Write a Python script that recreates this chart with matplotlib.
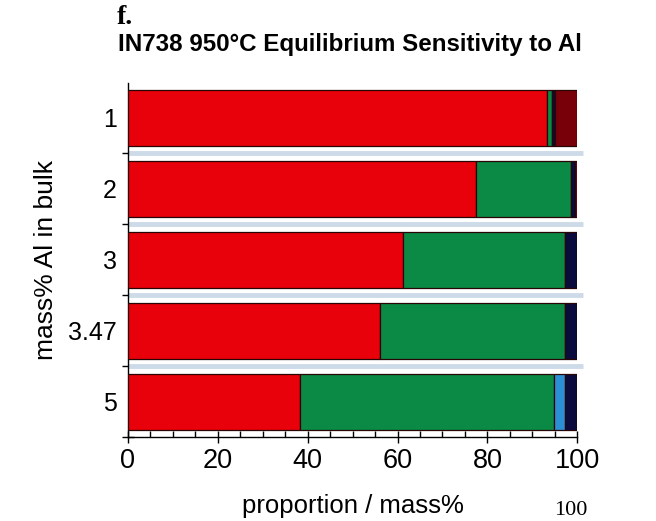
import matplotlib.pyplot as plt
from matplotlib.ticker import MultipleLocator, FixedLocator
import numpy as np

plt.rcParams['font.family'] = ['Liberation Sans', 'DejaVu Sans']

al_levels = ['1', '2', '3', '3.47', '5']

# phase proportions (mass%) per Al level
gamma = [93.3, 77.5, 61.2, 56.1, 38.3]
gamma_prime = [1.0, 21.0, 36.1, 41.2, 56.6]
light_phase = [0.0, 0.0, 0.0, 0.0, 2.4]
dark_phase = [0.8, 1.0, 2.7, 2.7, 2.7]
red_phase = [4.9, 0.5, 0.0, 0.0, 0.0]

series = [gamma, gamma_prime, light_phase, dark_phase, red_phase]
colors = ['#e8000a', '#0b8a45', '#2b8fd6', '#0a0a3c', '#780008']

fig = plt.figure(figsize=(6.56, 5.21), dpi=100)
ax = fig.add_axes([0.195, 0.161, 0.685, 0.68])

y = np.arange(len(al_levels))
left = np.zeros(len(al_levels))
for vals, c in zip(series, colors):
    vals = np.array(vals)
    ax.barh(y, vals, left=left, height=0.79, color=c,
            edgecolor='#2a0505', linewidth=0.9, zorder=3)
    left += vals

# light separator bands between rows
for b in y[:-1] + 0.5:
    ax.plot([0, 101.3], [b, b], color='#cddbe8', lw=3.5,
            solid_capstyle='butt', clip_on=False, zorder=2)

ax.set_xlim(0, 100)
ax.set_ylim(4.5, -0.49)

ax.set_yticks(y)
ax.set_yticklabels(al_levels)
ax.yaxis.set_minor_locator(FixedLocator(np.arange(-0.5, 5, 1.0)))
ax.tick_params(axis='y', which='major', length=0, labelsize=18, pad=8)
ax.tick_params(axis='y', which='minor', length=8, direction='inout', width=1)

ax.xaxis.set_major_locator(MultipleLocator(20))
ax.xaxis.set_minor_locator(MultipleLocator(5))
ax.tick_params(axis='x', which='major', length=9, direction='inout',
               width=1, labelsize=19.5, pad=3)
ax.tick_params(axis='x', which='minor', length=4, direction='in', width=1)

for s in ['top', 'right']:
    ax.spines[s].set_visible(False)
ax.spines['left'].set_linewidth(1)
ax.spines['bottom'].set_linewidth(1)

ax.set_xlabel('proportion / mass%', fontsize=18.5, labelpad=15)
ax.set_ylabel('mass% Al in bulk', fontsize=19, labelpad=7)

fig.text(0.178, 0.967, 'f.', fontsize=20, fontweight='bold',
         family='Liberation Serif', va='center')
fig.text(0.18, 0.914, 'IN738 950°C Equilibrium Sensitivity to Al',
         fontsize=17.4, fontweight='bold', va='center')
fig.text(0.845, 0.002, '100', fontsize=16, family='Liberation Serif',
         va='bottom')

fig.savefig('out.png', dpi=100)
